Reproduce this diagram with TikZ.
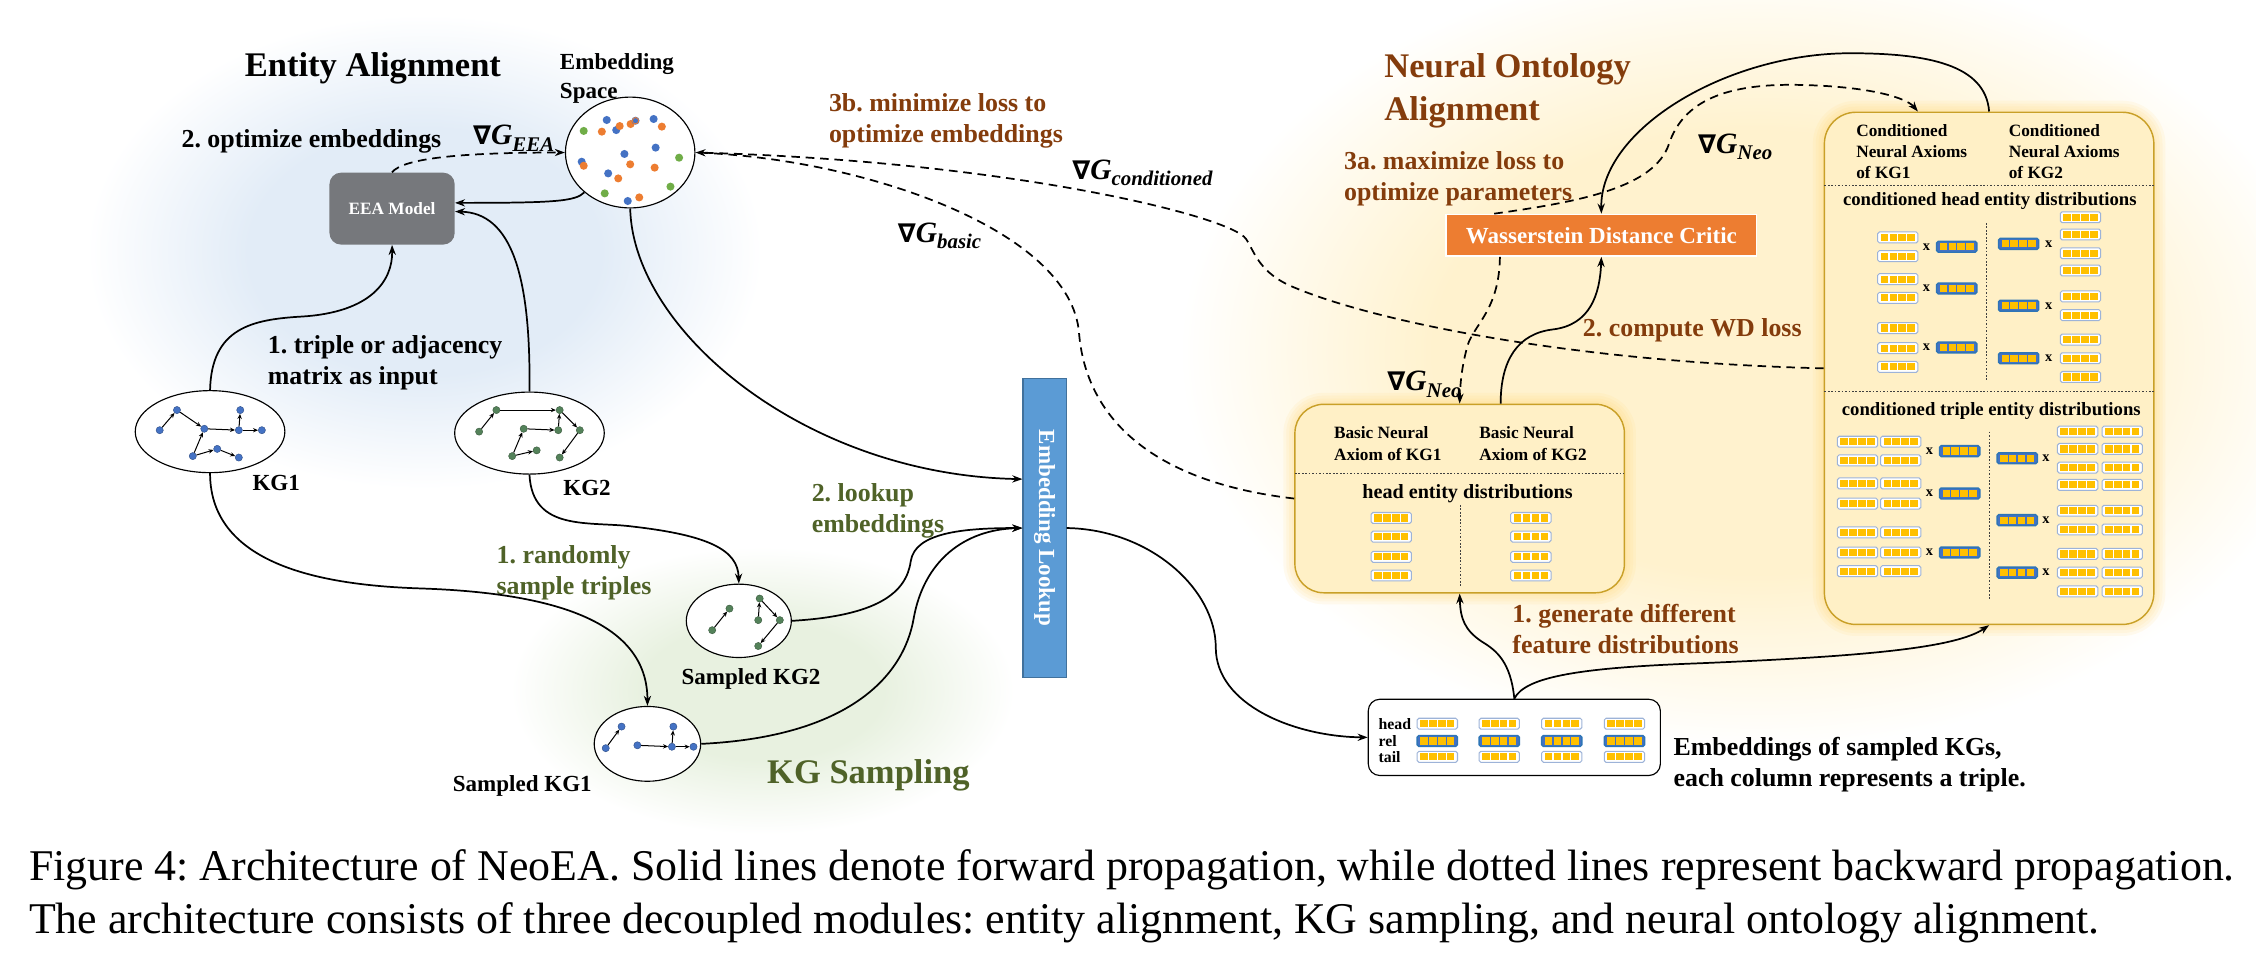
\documentclass[tikz,border=0pt]{standalone}
\usepackage{fix-cm}
\usepackage{fontspec}
\setmainfont{Liberation Serif}
\newfontfamily\dvs{DejaVu Sans}
\usetikzlibrary{arrows.meta,shapes.geometric,calc}
\frenchspacing
\definecolor{brn}{RGB}{132,60,12}
\definecolor{grn}{RGB}{79,98,40}
\definecolor{eeag}{RGB}{118,120,124}
\definecolor{lkb}{RGB}{91,155,213}
\definecolor{lkbd}{RGB}{65,113,156}
\definecolor{wdo}{RGB}{237,125,49}
\definecolor{boxf}{RGB}{255,240,198}
\definecolor{boxd}{RGB}{201,160,40}
\definecolor{halo}{RGB}{255,214,110}
\definecolor{cellc}{RGB}{255,192,0}
\definecolor{barbd}{RGB}{157,179,216}
\definecolor{rbd}{RGB}{46,117,182}
\definecolor{rfill}{RGB}{68,114,196}
\definecolor{kgb}{RGB}{68,114,196}
\definecolor{kgg}{RGB}{84,130,90}
\definecolor{dotb}{RGB}{68,114,196}
\definecolor{doto}{RGB}{237,125,49}
\definecolor{dotg}{RGB}{112,173,71}
\definecolor{glowb}{RGB}{226,236,247}
\definecolor{glowg}{RGB}{232,241,224}
\definecolor{glowy}{RGB}{255,242,206}
\pgfdeclareradialshading{glowB}{\pgfpoint{0bp}{0bp}}{color(0bp)=(glowb); color(13bp)=(glowb); color(25bp)=(white); color(50bp)=(white)}
\pgfdeclareradialshading{glowG}{\pgfpoint{0bp}{0bp}}{color(0bp)=(glowg); color(12bp)=(glowg); color(25bp)=(white); color(50bp)=(white)}
\pgfdeclareradialshading{glowY}{\pgfpoint{0bp}{0bp}}{color(0bp)=(glowy); color(14bp)=(glowy); color(25bp)=(white); color(50bp)=(white)}
\newcommand\gl[1]{{\bfseries{\dvs\fontsize{18}{20}\selectfont ∇}\itshape\fontsize{20.5}{22}\selectfont G\raisebox{-0.22em}{\fontsize{14.5}{15}\selectfont #1}}}
\tikzset{
  conn/.style={line width=1.2pt, -{Stealth[length=7pt,width=5pt]}},
  bconn/.style={line width=1.2pt, dash pattern=on 6pt off 4pt, -{Stealth[length=7pt,width=5pt]}},
  lab/.style={inner sep=0pt, align=left, font=\bfseries\fontsize{18}{21.5}\selectfont},
  big/.style={inner sep=0pt, align=left, font=\bfseries\fontsize{24}{30}\selectfont},
  mlab/.style={inner sep=0pt},
  btxt/.style={inner sep=0pt, align=left, font=\bfseries\fontsize{12}{14.8}\selectfont},
  xl/.style={inner sep=0pt, font=\bfseries\fontsize{10}{10}\selectfont},
  ybox/.style={fill=boxf, draw=boxd, line width=1pt, inner sep=0pt},
  dotline/.style={line width=0.7pt, dash pattern=on 1.2pt off 1.2pt, black!75},
  kgdot/.style={circle, fill=#1, draw=#1!70!black, line width=0.3pt, minimum size=5pt, inner sep=0pt},
  kge/.style={line width=0.7pt, -{Stealth[length=3.5pt,width=3pt]}},
  ebar/.pic={
    \draw[draw=barbd, fill=white, line width=0.7pt, rounded corners=1.2pt] (-14,-3.8) rectangle (14,3.8);
    \foreach \k in {0,...,3} \fill[cellc] ({-11.9+\k*6.2},-2.5) rectangle ++(5.2,5);
  },
  rbar/.pic={
    \draw[draw=rbd, fill=rfill, line width=1pt, rounded corners=1.2pt] (-14,-3.8) rectangle (14,3.8);
    \foreach \k in {0,...,3} \fill[cellc] ({-11.9+\k*6.2},-2.5) rectangle ++(5.2,5);
  }
}
\begin{document}
\begin{tikzpicture}[x=1pt,y=-1pt]
\useasboundingbox (0,0) rectangle (1568,678);
% background glows
\shade[shading=glowB] (295,175) ellipse [x radius=235, y radius=165];
\shade[shading=glowG] (530,480) ellipse [x radius=175, y radius=100];
\shade[shading=glowY] (1220,245) ellipse [x radius=400, y radius=275];
% soft halos around the yellow boxes
\foreach \w in {4,8,12,16} {
  \draw[halo, line width=\w pt, opacity=0.10, rounded corners=20pt] (900,281) rectangle (1129,412);
  \draw[halo, line width=\w pt, opacity=0.10, rounded corners=22pt] (1268,78) rectangle (1497,434);
}

% ---------- Entity alignment ----------
\node[big, anchor=north west] (titleEA) at (170,36) {Entity Alignment};
\node[inner sep=0pt, align=left, anchor=north west, font=\bfseries\fontsize{16}{20}\selectfont] (embl) at (389,37) {Embedding\\Space};
\node[fill=eeag, rounded corners=8pt, minimum width=87pt, minimum height=50pt, text=white, font=\bfseries\fontsize{12}{14}\selectfont, inner sep=0pt] (eea) at (272.5,145) {EEA Model};
\node[draw, ellipse, line width=0.8pt, minimum width=90pt, minimum height=77pt, inner sep=0pt, fill=white] (emb) at (438,106) {};
\foreach \xx/\yy/\c in {421.7/83.4/dotb, 418.3/91.5/doto, 428.3/90.4/dotb, 430.7/87.6/doto, 438.3/86.2/doto, 441.7/83.9/dotb, 454.3/82.7/dotb, 460/88/doto, 405.7/91/dotg, 455.7/102.6/dotb, 434/107/dotb, 472/109.6/dotg, 404.3/112.4/dotb, 405.7/115.2/doto, 438/114.2/doto, 455/116.5/doto, 422.7/120.5/dotb, 429.7/124/doto, 466/129.7/dotg, 420.3/134.4/dotg, 436.3/139.7/dotb, 444.3/137.2/doto}
  {\fill[\c] (\xx,\yy) circle (2.8);}
\draw[doto, line width=0.6pt] (441.7,83.9) circle (2.2);
\node[lab, anchor=north west] (optl) at (126,90) {2. optimize embeddings};
\node[mlab] (gEEA) at (357,96) {\gl{EEA}};
\node[lab, anchor=north west] (tripl) at (186,233) {1. triple or adjacency\\matrix as input};

% KG ellipses
\node[draw, ellipse, line width=0.8pt, fill=white, minimum width=104pt, minimum height=57pt, inner sep=0pt] (kg1) at (146,300) {};
\node[draw, ellipse, line width=0.8pt, fill=white, minimum width=104pt, minimum height=57pt, inner sep=0pt] (kg2) at (368,301) {};
\node[draw, ellipse, line width=0.8pt, fill=white, minimum width=73pt, minimum height=51pt, inner sep=0pt] (skg2) at (513.5,431.5) {};
\node[draw, ellipse, line width=0.8pt, fill=white, minimum width=74pt, minimum height=52pt, inner sep=0pt] (skg1) at (450,517) {};
\node[inner sep=0pt, font=\bfseries\fontsize{16}{18}\selectfont] (kg1l) at (192,336) {KG1};
\node[inner sep=0pt, font=\bfseries\fontsize{16}{18}\selectfont] (kg2l) at (408,339) {KG2};
\node[inner sep=0pt, font=\bfseries\fontsize{16}{18}\selectfont] (skg2l) at (522,472) {Sampled KG2};
\node[inner sep=0pt, font=\bfseries\fontsize{16}{18}\selectfont] (skg1l) at (363,546) {Sampled KG1};

% KG1 graph
\foreach \n/\xx/\yy in {a1/123/285, a2/111/299, a3/142/298, a4/166/299, a5/182/299, a6/167/285, a7/151/312, a8/134/317, a9/166/318}
  {\node[kgdot=kgb] (\n) at (\xx,\yy) {};}
\foreach \s/\t in {a2/a1, a1/a3, a3/a4, a4/a5, a4/a6, a8/a3, a8/a7, a7/a9}
  {\draw[kge] (\s) -- (\t);}
% KG2 graph
\foreach \n/\xx/\yy in {b1/345/285, b2/389/285, b3/333/300, b4/364/298, b5/388/299, b6/403/299, b7/373/313, b8/356/317, b9/389/318}
  {\node[kgdot=kgg] (\n) at (\xx,\yy) {};}
\foreach \s/\t in {b3/b1, b1/b2, b5/b2, b2/b6, b4/b5, b8/b4, b8/b7, b6/b9}
  {\draw[kge] (\s) -- (\t);}
% Sampled KG2
\foreach \n/\xx/\yy in {c1/507/423, c2/495/438, c3/528/416, c4/527/431, c5/542/431, c6/527/449}
  {\node[kgdot=kgg] (\n) at (\xx,\yy) {};}
\foreach \s/\t in {c2/c1, c4/c3, c3/c5, c5/c6}
  {\draw[kge] (\s) -- (\t);}
% Sampled KG1
\foreach \n/\xx/\yy in {d1/432/505, d2/421/520, d3/468/505, d4/443/518, d5/467/519, d6/482/519}
  {\node[kgdot=kgb] (\n) at (\xx,\yy) {};}
\foreach \s/\t in {d2/d1, d4/d5, d5/d3, d5/d6}
  {\draw[kge] (\s) -- (\t);}

% KG sampling labels
\node[lab, anchor=north west, text=grn] (randl) at (345,379) {1. randomly\\sample triples};
\node[lab, anchor=north west, text=grn] (lookl) at (564,336) {2. lookup\\embeddings};
\node[big, anchor=north west, text=grn] (titleKS) at (533,528) {KG Sampling};

% Embedding lookup
\node[fill=lkb, draw=lkbd, line width=0.8pt, minimum width=30pt, minimum height=208pt, inner sep=0pt] (lookup) at (726,367) {};
\node[rotate=-90, inner sep=0pt, text=white, font=\bfseries\fontsize{16}{18}\selectfont] (lookupt) at (lookup.center) {Embedding Lookup};

% ---------- Neural ontology alignment ----------
\node[big, anchor=north west, text=brn] (titleNO) at (962,37) {Neural Ontology\\Alignment};
\node[lab, anchor=north west, text=brn] (l3a) at (934,105) {3a. maximize loss to\\optimize parameters};
\node[lab, anchor=north west, text=brn] (l3b) at (576,65) {3b. minimize loss to\\optimize embeddings};
\node[lab, anchor=north west, text=brn] (lwd) at (1100,221) {2. compute WD loss};
\node[lab, anchor=north west, text=brn] (lgen) at (1051,420) {1. generate different\\feature distributions};
\node[mlab] (gCond) at (794,120) {\gl{conditioned}};
\node[mlab] (gBasic) at (653,164) {\gl{basic}};
\node[mlab] (gNeo1) at (1206,102) {\gl{Neo}};
\node[mlab] (gNeo2) at (990,267) {\gl{Neo}};

\node[fill=wdo, draw=white, line width=1pt, minimum width=216pt, minimum height=29pt, text=white, font=\bfseries\fontsize{16}{18}\selectfont, inner sep=0pt] (wd) at (1113,163.5) {Wasserstein Distance Critic};

% basic box
\node[ybox, minimum width=229pt, minimum height=131pt, rounded corners=20pt] (basic) at (1014.5,346.5) {};
\draw[dotline] (900,329) -- (1129,329);
\draw[dotline] (1015,351) -- (1015,408);
\node[btxt, anchor=north west] (bk1) at (927,296.5) {Basic Neural\\Axiom of KG1};
\node[btxt, anchor=north west] (bk2) at (1028,296.5) {Basic Neural\\Axiom of KG2};
\node[inner sep=0pt, font=\bfseries\fontsize{14}{16}\selectfont] (hed) at (1020,343) {head entity distributions};
\foreach \yy in {360,373,387,400} {\pic at (967,\yy) {ebar}; \pic at (1064,\yy) {ebar};}

% conditioned box
\node[ybox, minimum width=229pt, minimum height=356pt, rounded corners=22pt] (cond) at (1382.5,256) {};
\draw[dotline] (1268,129) -- (1497,129);
\draw[dotline] (1268,272) -- (1497,272);
\draw[dotline] (1381,155) -- (1381,264);
\draw[dotline] (1383,300) -- (1383,416);
\node[btxt, anchor=north west] (ck1) at (1290,86) {Conditioned\\Neural Axioms\\of KG1};
\node[btxt, anchor=north west] (ck2) at (1396,86) {Conditioned\\Neural Axioms\\of KG2};
\node[inner sep=0pt, font=\bfseries\fontsize{13}{15}\selectfont] (chd) at (1383,140) {conditioned head entity distributions};
\node[inner sep=0pt, font=\bfseries\fontsize{13}{15}\selectfont] (ctd) at (1384,286) {conditioned triple entity distributions};
\foreach \yy in {165,178,194,207,228,242,255} {\pic at (1319,\yy) {ebar};}
\foreach \yy in {171.5,200.5,241.5} {\node[xl] at (1339,\yy) {x}; \pic at (1360,\yy) {rbar};}
\foreach \yy in {169.5,212.5,249} {\pic at (1403,\yy) {rbar}; \node[xl] at (1424,\yy) {x};}
\foreach \yy in {151,163,176,188,206,219,236,249,262} {\pic at (1446,\yy) {ebar};}
\foreach \yy in {307,320,336,350,370,384,397} {\pic at (1291,\yy) {ebar}; \pic at (1321,\yy) {ebar};}
\foreach \yy in {313.5,343,384} {\node[xl] at (1341,\yy) {x}; \pic at (1362,\yy) {rbar};}
\foreach \yy in {318.5,361.5,398} {\pic at (1402,\yy) {rbar}; \node[xl] at (1422,\yy) {x};}
\foreach \yy in {300,312,325,337,355,368,385,398,411} {\pic at (1444,\yy) {ebar}; \pic at (1475,\yy) {ebar};}

% embeddings box
\node[draw, line width=0.8pt, rounded corners=8pt, fill=white, minimum width=203pt, minimum height=53pt, inner sep=0pt] (emb2) at (1052.5,512.5) {};
\node[inner sep=0pt, anchor=west, font=\bfseries\fontsize{11}{12}\selectfont] (hl) at (958,503) {head};
\node[inner sep=0pt, anchor=west, font=\bfseries\fontsize{11}{12}\selectfont] (rl) at (958,515) {rel};
\node[inner sep=0pt, anchor=west, font=\bfseries\fontsize{11}{12}\selectfont] (tl) at (958,526) {tail};
\foreach \xx in {999,1042,1085.5,1129} {\pic at (\xx,503) {ebar}; \pic at (\xx,515) {rbar}; \pic at (\xx,526) {ebar};}
\node[lab, anchor=north west] (embtxt) at (1163,512) {Embeddings of sampled KGs,\\each column represents a triple.};

% ---------- connectors ----------
\draw[conn] (kg1.north) .. controls (147,228) and (175,222) .. (210,220) .. controls (258,217) and (273,195) .. (eea.south);
\draw[conn] (kg2.north) .. controls (369,190) and (355,148) .. ($(eea.east)+(0,2)$);
\draw[conn] (emb.221) .. controls (400,140) and (385,141) .. ($(eea.east)+(0,-4)$);
\draw[bconn] (eea.north) .. controls (280,110) and (320,106) .. (emb.west);
\draw[conn] (emb.south) .. controls (440,230) and (560,330) .. ($(lookup.west)+(0,-34)$);
\draw[conn] (kg2.south) .. controls (370,370) and (410,362) .. (440,366) .. controls (492,372) and (513,382) .. (skg2.north);
\draw[conn] (kg1.south) .. controls (146,395) and (230,407) .. (293,409) .. controls (380,412) and (450,430) .. (skg1.north);
\draw[conn] (skg2.east) .. controls (610,428) and (630,412) .. (633,390) .. controls (636,370) and (670,367) .. (lookup.west);
\draw[conn] (skg1.east) .. controls (590,512) and (628,470) .. (635,430) .. controls (642,390) and (670,368) .. (lookup.west);
\draw[conn] (lookup.east) .. controls (800,368) and (845,410) .. (845,450) .. controls (845,490) and (900,512) .. (emb2.west);

\draw[bconn, -] (basic.west) .. controls (800,335) and (755,290) .. (750,232) .. controls (745,160) and (600,110) .. (emb.east);
\draw[bconn] (cond.west) .. controls (1100,252) and (960,225) .. (900,200) .. controls (875,190) and (872,175) .. (866,166) .. controls (855,150) and (700,112) .. (emb.east);
\draw[bconn] ($(wd.south west)+(38,0)$) .. controls (1042,215) and (1025,225) .. (1020,240) .. controls (1016,255) and (1015,265) .. (basic.north);
\draw[conn] ($(basic.north)+(28.5,0)$) .. controls (1043,250) and (1055,232) .. (1079,229) .. controls (1105,226) and (1112,205) .. (wd.south);
\draw[conn] (cond.north) .. controls (1380,45) and (1340,37) .. (1286,37) .. controls (1200,37) and (1112,90) .. (wd.north);
\draw[bconn] ($(wd.north west)+(34,0)$) .. controls (1100,140) and (1150,130) .. (1160,100) .. controls (1170,70) and (1200,58) .. (1250,59) .. controls (1300,60) and (1325,68) .. ($(cond.north)+(-49.5,0)$);
\draw[conn] (emb2.north) .. controls (1050,460) and (1040,452) .. (1030,446) .. controls (1018,438) and (1015,430) .. (basic.south);
\draw[conn] (emb2.north) .. controls (1060,470) and (1100,464) .. (1181,461) .. controls (1300,456) and (1360,450) .. (cond.south);

% caption
\node[anchor=base west, inner sep=0pt, font=\fontsize{30.5}{36}\selectfont] (cap1) at (20,612) {Figure 4: Architecture of NeoEA. Solid lines denote forward propagation, while dotted lines represent backward propagation.};
\node[anchor=base west, inner sep=0pt, font=\fontsize{30.5}{36}\selectfont] (cap2) at (20,649) {The architecture consists of three decoupled modules: entity alignment, KG sampling, and neural ontology alignment.};
\end{tikzpicture}
\end{document}
